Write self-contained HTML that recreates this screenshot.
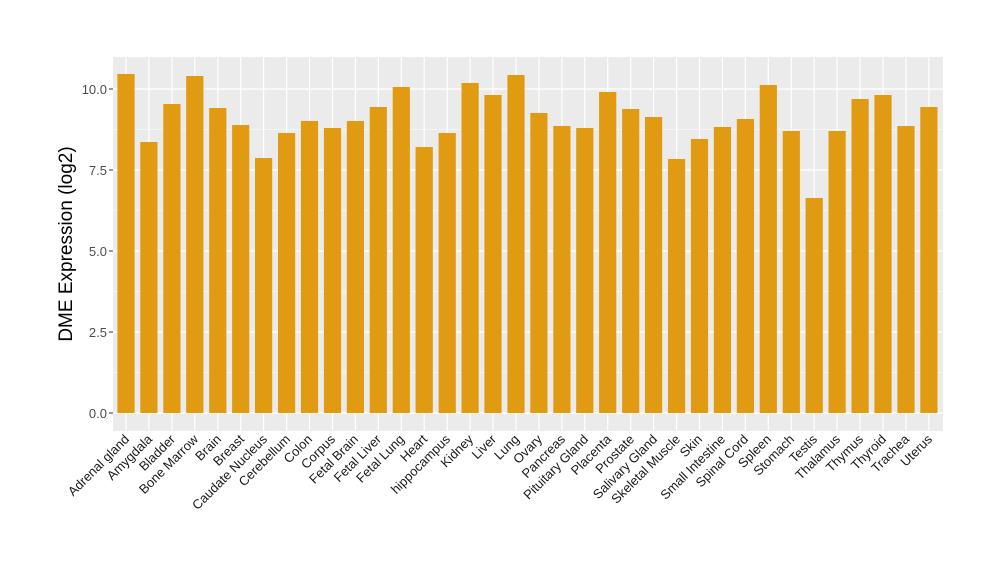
<!DOCTYPE html>
<html><head><meta charset="utf-8"><style>html,body{margin:0;padding:0;background:#fff}svg{display:block}</style></head><body>
<svg width="1000" height="580" xmlns="http://www.w3.org/2000/svg" font-family="Liberation Sans, sans-serif">
<rect x="0" y="0" width="1000" height="580" fill="#fff"/>
<rect x="113" y="57" width="830" height="374" fill="#ebebeb"/>
<g stroke="#fff" stroke-width="0.6">
<line x1="113" x2="943" y1="372.5" y2="372.5"/><line x1="113" x2="943" y1="291.5" y2="291.5"/><line x1="113" x2="943" y1="210.5" y2="210.5"/><line x1="113" x2="943" y1="129.5" y2="129.5"/>
</g>
<g stroke="#fff" stroke-width="1.2">
<line x1="113" x2="943" y1="413" y2="413"/><line x1="113" x2="943" y1="332" y2="332"/><line x1="113" x2="943" y1="251" y2="251"/><line x1="113" x2="943" y1="170" y2="170"/><line x1="113" x2="943" y1="89" y2="89"/>
</g>
<g stroke="#fff" stroke-width="1.2">
<line x1="126" x2="126" y1="57" y2="431"/><line x1="148.9" x2="148.9" y1="57" y2="431"/><line x1="171.9" x2="171.9" y1="57" y2="431"/><line x1="194.8" x2="194.8" y1="57" y2="431"/><line x1="217.8" x2="217.8" y1="57" y2="431"/><line x1="240.7" x2="240.7" y1="57" y2="431"/><line x1="263.6" x2="263.6" y1="57" y2="431"/><line x1="286.6" x2="286.6" y1="57" y2="431"/><line x1="309.5" x2="309.5" y1="57" y2="431"/><line x1="332.5" x2="332.5" y1="57" y2="431"/><line x1="355.4" x2="355.4" y1="57" y2="431"/><line x1="378.3" x2="378.3" y1="57" y2="431"/><line x1="401.3" x2="401.3" y1="57" y2="431"/><line x1="424.2" x2="424.2" y1="57" y2="431"/><line x1="447.2" x2="447.2" y1="57" y2="431"/><line x1="470.1" x2="470.1" y1="57" y2="431"/><line x1="493" x2="493" y1="57" y2="431"/><line x1="516" x2="516" y1="57" y2="431"/><line x1="538.9" x2="538.9" y1="57" y2="431"/><line x1="561.9" x2="561.9" y1="57" y2="431"/><line x1="584.8" x2="584.8" y1="57" y2="431"/><line x1="607.7" x2="607.7" y1="57" y2="431"/><line x1="630.7" x2="630.7" y1="57" y2="431"/><line x1="653.6" x2="653.6" y1="57" y2="431"/><line x1="676.6" x2="676.6" y1="57" y2="431"/><line x1="699.5" x2="699.5" y1="57" y2="431"/><line x1="722.4" x2="722.4" y1="57" y2="431"/><line x1="745.4" x2="745.4" y1="57" y2="431"/><line x1="768.3" x2="768.3" y1="57" y2="431"/><line x1="791.3" x2="791.3" y1="57" y2="431"/><line x1="814.2" x2="814.2" y1="57" y2="431"/><line x1="837.1" x2="837.1" y1="57" y2="431"/><line x1="860.1" x2="860.1" y1="57" y2="431"/><line x1="883" x2="883" y1="57" y2="431"/><line x1="906" x2="906" y1="57" y2="431"/><line x1="928.9" x2="928.9" y1="57" y2="431"/>
</g>
<g fill="#E09B12">
<rect x="117.4" y="74" width="17.2" height="339"/>
<rect x="140.3" y="142" width="17.2" height="271"/>
<rect x="163.3" y="104" width="17.2" height="309"/>
<rect x="186.2" y="76" width="17.2" height="337"/>
<rect x="209.2" y="108" width="17.2" height="305"/>
<rect x="232.1" y="125" width="17.2" height="288"/>
<rect x="255.0" y="158" width="17.2" height="255"/>
<rect x="278.0" y="133" width="17.2" height="280"/>
<rect x="300.9" y="121" width="17.2" height="292"/>
<rect x="323.9" y="128" width="17.2" height="285"/>
<rect x="346.8" y="121" width="17.2" height="292"/>
<rect x="369.7" y="107" width="17.2" height="306"/>
<rect x="392.7" y="87" width="17.2" height="326"/>
<rect x="415.6" y="147" width="17.2" height="266"/>
<rect x="438.6" y="133" width="17.2" height="280"/>
<rect x="461.5" y="83" width="17.2" height="330"/>
<rect x="484.4" y="95" width="17.2" height="318"/>
<rect x="507.4" y="75" width="17.2" height="338"/>
<rect x="530.3" y="113" width="17.2" height="300"/>
<rect x="553.3" y="126" width="17.2" height="287"/>
<rect x="576.2" y="128" width="17.2" height="285"/>
<rect x="599.1" y="92" width="17.2" height="321"/>
<rect x="622.1" y="109" width="17.2" height="304"/>
<rect x="645.0" y="117" width="17.2" height="296"/>
<rect x="668.0" y="159" width="17.2" height="254"/>
<rect x="690.9" y="139" width="17.2" height="274"/>
<rect x="713.8" y="127" width="17.2" height="286"/>
<rect x="736.8" y="119" width="17.2" height="294"/>
<rect x="759.7" y="85" width="17.2" height="328"/>
<rect x="782.7" y="131" width="17.2" height="282"/>
<rect x="805.6" y="198" width="17.2" height="215"/>
<rect x="828.5" y="131" width="17.2" height="282"/>
<rect x="851.5" y="99" width="17.2" height="314"/>
<rect x="874.4" y="95" width="17.2" height="318"/>
<rect x="897.4" y="126" width="17.2" height="287"/>
<rect x="920.3" y="107" width="17.2" height="306"/>
</g>
<g font-size="13" fill="#4d4d4d" text-anchor="end">
<text x="107" y="418">0.0</text><text x="107" y="337">2.5</text><text x="107" y="256">5.0</text><text x="107" y="175">7.5</text><text x="107" y="94">10.0</text>
</g>
<g stroke="#333" stroke-width="1">
<line x1="109" x2="113" y1="413" y2="413"/><line x1="109" x2="113" y1="332" y2="332"/><line x1="109" x2="113" y1="251" y2="251"/><line x1="109" x2="113" y1="170" y2="170"/><line x1="109" x2="113" y1="89" y2="89"/>
</g>
<text transform="translate(72,244) rotate(-90)" font-size="19" fill="#000" text-anchor="middle">DME Expression (log2)</text>
<g font-size="13" fill="#1a1a1a" text-anchor="end">
<text transform="translate(130,440) rotate(-45)">Adrenal gland</text>
<text transform="translate(153,440) rotate(-45)">Amygdala</text>
<text transform="translate(176,440) rotate(-45)">Bladder</text>
<text transform="translate(199,440) rotate(-45)">Bone Marrow</text>
<text transform="translate(222,440) rotate(-45)">Brain</text>
<text transform="translate(245,440) rotate(-45)">Breast</text>
<text transform="translate(268,440) rotate(-45)">Caudate Nucleus</text>
<text transform="translate(291,440) rotate(-45)">Cerebellum</text>
<text transform="translate(313,440) rotate(-45)">Colon</text>
<text transform="translate(336,440) rotate(-45)">Corpus</text>
<text transform="translate(359,440) rotate(-45)">Fetal Brain</text>
<text transform="translate(382,440) rotate(-45)">Fetal Liver</text>
<text transform="translate(405,440) rotate(-45)">Fetal Lung</text>
<text transform="translate(428,440) rotate(-45)">Heart</text>
<text transform="translate(451,440) rotate(-45)">hippocampus</text>
<text transform="translate(474,440) rotate(-45)">Kidney</text>
<text transform="translate(497,440) rotate(-45)">Liver</text>
<text transform="translate(520,440) rotate(-45)">Lung</text>
<text transform="translate(543,440) rotate(-45)">Ovary</text>
<text transform="translate(566,440) rotate(-45)">Pancreas</text>
<text transform="translate(589,440) rotate(-45)">Pituitary Gland</text>
<text transform="translate(612,440) rotate(-45)">Placenta</text>
<text transform="translate(635,440) rotate(-45)">Prostate</text>
<text transform="translate(658,440) rotate(-45)">Salivary Gland</text>
<text transform="translate(681,440) rotate(-45)">Skeletal Muscle</text>
<text transform="translate(703,440) rotate(-45)">Skin</text>
<text transform="translate(726,440) rotate(-45)">Small Intestine</text>
<text transform="translate(749,440) rotate(-45)">Spinal Cord</text>
<text transform="translate(772,440) rotate(-45)">Spleen</text>
<text transform="translate(795,440) rotate(-45)">Stomach</text>
<text transform="translate(818,440) rotate(-45)">Testis</text>
<text transform="translate(841,440) rotate(-45)">Thalamus</text>
<text transform="translate(864,440) rotate(-45)">Thymus</text>
<text transform="translate(887,440) rotate(-45)">Thyroid</text>
<text transform="translate(910,440) rotate(-45)">Trachea</text>
<text transform="translate(933,440) rotate(-45)">Uterus</text>
</g>
</svg>
</body></html>
